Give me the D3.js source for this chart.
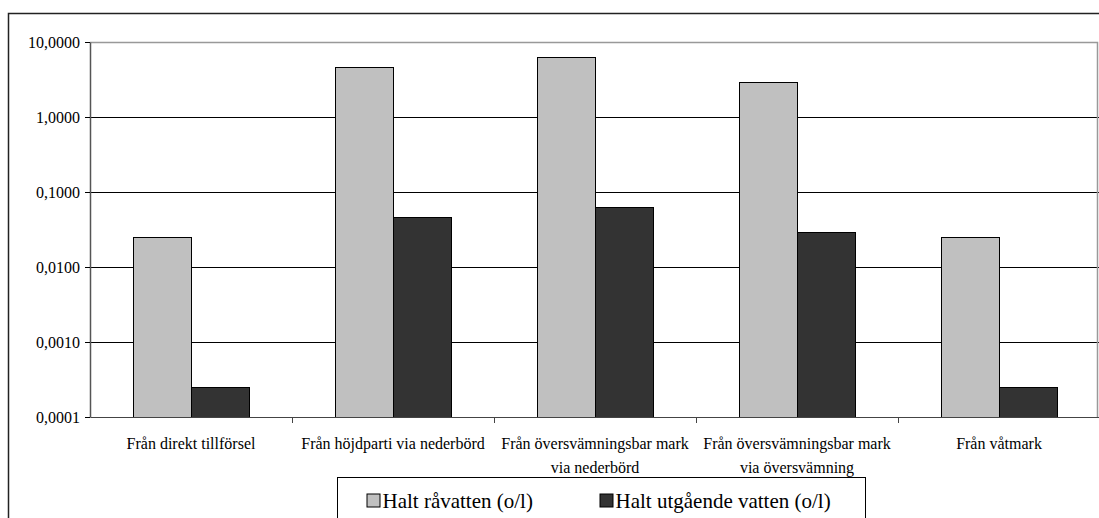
<!DOCTYPE html>
<html>
<head>
<meta charset="utf-8">
<script src="https://cdn.jsdelivr.net/npm/d3@7"></script>
<style>
  body { margin: 0; background: #fff; }
  svg text { font-family: "Liberation Serif", "Times New Roman", "DejaVu Serif", serif !important; fill: #000; }
</style>
</head>
<body>
<div id="chart"></div>
<script>
// Data
const categories = [
    "Från direkt tillförsel",
    "Från höjdparti via nederbörd",
    "Från översvämningsbar mark via nederbörd",
    "Från översvämningsbar mark via översvämning",
    "Från våtmark"
];
const seriesNames = ["Halt råvatten (o/l)", "Halt utgående vatten (o/l)"];
const rawValues = [0.025, 4.7, 6.4, 2.9, 0.025];
const outValues = [0.00025, 0.047, 0.063, 0.029, 0.00025];
const yTicks = [0.0001, 0.001, 0.01, 0.1, 1, 10];
const seriesColors = ["#c0c0c0", "#333333"];

const width = 1099, height = 518;
const margin = {top: 42, right: 0, bottom: 101, left: 90};
const plotW = 1010;
const plotH = height - margin.top - margin.bottom;
const serif = '"Liberation Serif", "Times New Roman", "DejaVu Serif", serif';

const svg = d3.select("#chart").append("svg")
    .attr("width", width)
    .attr("height", height);

// outer chart frame
svg.append("rect")
    .attr("x", 8.5).attr("y", 13.5)
    .attr("width", 1200).attr("height", 600)
    .attr("fill", "none")
    .attr("stroke", "#222")
    .attr("stroke-width", 1.5);

const g = svg.append("g")
    .attr("transform", "translate(" + margin.left + "," + margin.top + ")");

// Scales
const x0 = d3.scaleBand()
    .domain(categories)
    .range([0, plotW])
    .paddingInner(0)
    .paddingOuter(0);

const x1 = d3.scaleBand()
    .domain(seriesNames)
    .range([0, x0.bandwidth()])
    .paddingInner(0)
    .paddingOuter(0.74);

const y = d3.scaleLog()
    .domain([0.0001, 10])
    .range([plotH, 0]);

const locale = d3.formatLocale({decimal: ",", thousands: " ", grouping: [3], currency: ["", " kr"]});
const fmt = locale.format(".4f");

// Gridlines
g.append("g")
    .selectAll("line")
    .data(yTicks.slice(1, -1))
    .join("line")
    .attr("x1", 0).attr("x2", plotW)
    .attr("y1", d => Math.round(y(d)) + 0.5)
    .attr("y2", d => Math.round(y(d)) + 0.5)
    .attr("stroke", "#000");

// plot area top/right border (gray)
g.append("path")
    .attr("d", "M0," + (Math.round(y(10)) + 0.5) + "H" + (plotW - 2.5) + "V" + plotH)
    .attr("fill", "none")
    .attr("stroke", "#999")
    .attr("stroke-width", 1.5);

// Bars
const data = categories.map((c, i) => ({cat: c, vals: [rawValues[i], outValues[i]]}));

g.append("g")
    .selectAll("g")
    .data(data)
    .join("g")
    .attr("transform", d => "translate(" + x0(d.cat) + ",0)")
    .selectAll("rect")
    .data(d => d.vals.map((v, k) => ({name: seriesNames[k], v: v, k: k})))
    .join("rect")
    .attr("x", d => Math.round(x1(d.name)) + 0.5)
    .attr("y", d => Math.round(y(d.v)) + 0.5)
    .attr("width", Math.round(x1.bandwidth()))
    .attr("height", d => plotH - Math.round(y(d.v)))
    .attr("fill", d => seriesColors[d.k])
    .attr("stroke", "#000")
    .attr("stroke-width", 1);

// Y axis
const yAxis = d3.axisLeft(y)
    .tickValues(yTicks)
    .tickFormat(fmt)
    .tickSize(5)
    .tickSizeOuter(0)
    .tickPadding(5);

const yAxisG = g.append("g")
    .attr("class", "axis y-axis")
    .call(yAxis)
    .attr("font-family", null)
    .attr("font-size", null);
yAxisG.select(".domain").attr("stroke", "#555").attr("stroke-width", 1.5);
yAxisG.selectAll(".tick line").attr("stroke", "#000");
yAxisG.selectAll("text")
    .style("font-size", "16px")
    .style("font-family", serif)
    .attr("fill", "#000");

// X axis
const xAxis = d3.axisBottom(x0)
    .tickSize(0)
    .tickSizeOuter(0)
    .tickPadding(21);

const xAxisG = g.append("g")
    .attr("class", "axis x-axis")
    .attr("transform", "translate(0," + plotH + ")")
    .call(xAxis)
    .attr("font-family", null)
    .attr("font-size", null);
xAxisG.select(".domain").attr("stroke", "#444").attr("stroke-width", 1.2);
xAxisG.selectAll("text")
    .style("font-size", "16px")
    .style("font-family", serif)
    .attr("fill", "#000")
    .call(wrap, 196);

// category separator ticks
xAxisG.append("g")
    .selectAll("line")
    .data(categories.slice(1))
    .join("line")
    .attr("x1", d => Math.round(x0(d)) + 0.5)
    .attr("x2", d => Math.round(x0(d)) + 0.5)
    .attr("y1", 0).attr("y2", 6)
    .attr("stroke", "#444");

function wrap(text, w) {
    text.each(function() {
        const t = d3.select(this);
        const words = t.text().split(/\s+/);
        const yy = t.attr("y");
        const dy = parseFloat(t.attr("dy"));
        t.text(null);
        let line = [];
        let lineNo = 0;
        let tspan = t.append("tspan").attr("x", 0).attr("y", yy).attr("dy", dy + "em");
        words.forEach(word => {
            line.push(word);
            tspan.text(line.join(" "));
            if (tspan.node().getComputedTextLength() > w && line.length > 1) {
                line.pop();
                tspan.text(line.join(" "));
                line = [word];
                lineNo++;
                tspan = t.append("tspan").attr("x", 0).attr("y", yy)
                    .attr("dy", (dy + lineNo * 1.45) + "em")
                    .text(word);
            }
        });
    });
}

// Legend
const legend = svg.append("g")
    .attr("transform", "translate(337.5,477.5)");

legend.append("rect")
    .attr("width", 528)
    .attr("height", 60)
    .attr("fill", "#fff")
    .attr("stroke", "#000");

const legendX = [29, 262];
const items = legend.selectAll("g.item")
    .data(seriesNames)
    .join("g")
    .attr("class", "item")
    .attr("transform", (d, i) => "translate(" + legendX[i] + ",0)");

items.append("rect")
    .attr("x", 0.5).attr("y", 16.5)
    .attr("width", 13).attr("height", 13)
    .attr("fill", (d, i) => seriesColors[i])
    .attr("stroke", "#000");

items.append("text")
    .attr("x", 16)
    .attr("y", 30)
    .style("font-size", "21px")
    .style("font-family", serif)
    .text(d => d);
</script>
</body>
</html>
